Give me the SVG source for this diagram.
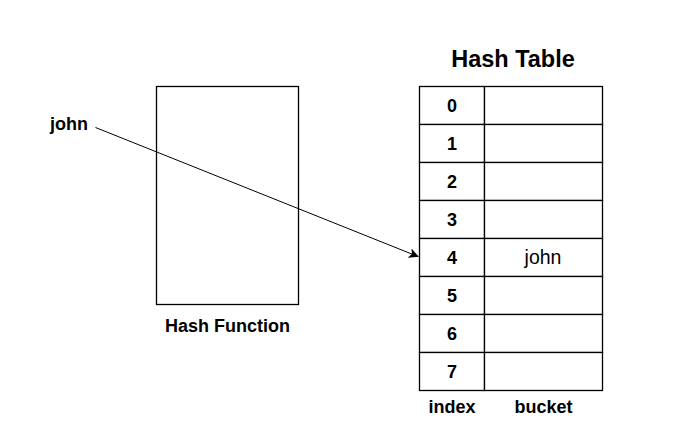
<svg xmlns="http://www.w3.org/2000/svg" width="694" height="446" viewBox="0 0 694 446">
<style>
text{font-family:"Liberation Sans",Arial,sans-serif;fill:#000}
.b{font-weight:bold;font-size:18px}
.c{text-anchor:middle}
.cell{fill:#fff;stroke:#000;stroke-width:1.3}
</style>
<defs>
<marker id="ah" viewBox="0 0 10 10" refX="9" refY="5" markerWidth="10" markerHeight="10" markerUnits="userSpaceOnUse" orient="auto">
<path d="M0,0 L10,5 L0,10 L2.5,5 Z" fill="#000"/>
</marker>
</defs>
<rect width="694" height="446" fill="#fff"/>
<g id="hash-function">
<rect class="cell" x="156.5" y="86.5" width="142" height="218"/>
<text class="b c" x="227.5" y="332">Hash Function</text>
</g>
<g id="title"><text class="c" x="513" y="67" font-weight="bold" font-size="23.5px">Hash Table</text></g>
<g id="key"><text class="b" x="50" y="130">john</text></g>
<g id="table">
<g id="row0"><rect class="cell" x="419.5" y="86.5" width="65" height="38"/><rect class="cell" x="484.5" y="86.5" width="118" height="38"/><text class="b c" x="452" y="111.5">0</text></g>
<g id="row1"><rect class="cell" x="419.5" y="124.5" width="65" height="38"/><rect class="cell" x="484.5" y="124.5" width="118" height="38"/><text class="b c" x="452" y="149.5">1</text></g>
<g id="row2"><rect class="cell" x="419.5" y="162.5" width="65" height="38"/><rect class="cell" x="484.5" y="162.5" width="118" height="38"/><text class="b c" x="452" y="187.5">2</text></g>
<g id="row3"><rect class="cell" x="419.5" y="200.5" width="65" height="38"/><rect class="cell" x="484.5" y="200.5" width="118" height="38"/><text class="b c" x="452" y="225.5">3</text></g>
<g id="row4"><rect class="cell" x="419.5" y="238.5" width="65" height="38"/><rect class="cell" x="484.5" y="238.5" width="118" height="38"/><text class="b c" x="452" y="263.5">4</text><text class="c" x="543" y="263.5" font-size="19.5px">john</text></g>
<g id="row5"><rect class="cell" x="419.5" y="276.5" width="65" height="38"/><rect class="cell" x="484.5" y="276.5" width="118" height="38"/><text class="b c" x="452" y="301.5">5</text></g>
<g id="row6"><rect class="cell" x="419.5" y="314.5" width="65" height="38"/><rect class="cell" x="484.5" y="314.5" width="118" height="38"/><text class="b c" x="452" y="339.5">6</text></g>
<g id="row7"><rect class="cell" x="419.5" y="352.5" width="65" height="38"/><rect class="cell" x="484.5" y="352.5" width="118" height="38"/><text class="b c" x="452" y="377.5">7</text></g>
<text class="b c" x="452" y="413">index</text>
<text class="b c" x="543.5" y="413">bucket</text>
</g>
<g id="connectors">
<line x1="95.5" y1="127.5" x2="418" y2="256.5" stroke="#000" stroke-width="1" marker-end="url(#ah)"/>
</g>
</svg>
